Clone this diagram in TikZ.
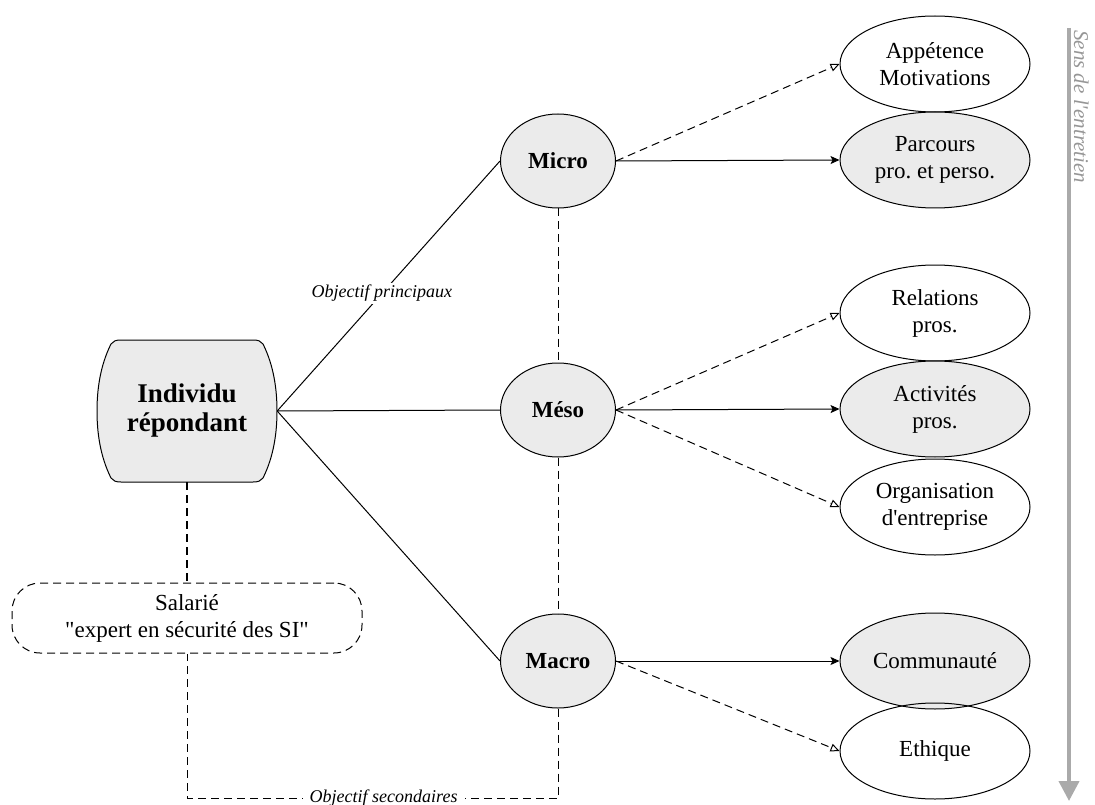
\documentclass[tikz,border=0pt]{standalone}
\usepackage{fontspec}
\setmainfont{Liberation Serif}[Ligatures=TeXOff]
\usetikzlibrary{arrows.meta,shapes.geometric}
\definecolor{nodefill}{RGB}{235,235,235}
\definecolor{flowgray}{RGB}{170,170,170}
\definecolor{flowtext}{RGB}{150,150,150}
\frenchspacing

\begin{document}
\begin{tikzpicture}[x=1pt,y=-1pt,
  level/.style={ellipse, draw, fill=nodefill, line width=1pt, minimum width=115pt,
    minimum height=94pt, inner sep=0pt, font=\fontsize{23}{27}\selectfont\bfseries},
  topic/.style={ellipse, draw, line width=1pt, minimum width=190pt, minimum height=96pt,
    inner sep=0pt, align=center, font=\fontsize{23}{27}\selectfont},
  topicfill/.style={topic, fill=nodefill},
  link/.style={line width=1pt},
  solidarrow/.style={link, -{Stealth[length=9pt,width=8pt,inset=2pt]}},
  dasharrow/.style={link, dash pattern=on 8pt off 5pt, -{Triangle[open,length=9pt,width=8pt]}},
  dashline/.style={link, dash pattern=on 8pt off 5pt},
  tag/.style={fill=white, font=\fontsize{18}{20}\selectfont\itshape, inner ysep=2pt, inner xsep=7pt}
]
\useasboundingbox (0,0) rectangle (1095,805);

% outline of the respondent block: flat top and bottom, bulging sides
\filldraw[fill=nodefill, line width=1pt]
  (121,340) -- (253,340) .. controls (258,340) and (261,341) .. (263,344)
  .. controls (274,366) and (277,390) .. (277,411)
  .. controls (277,432) and (274,456) .. (263,478)
  .. controls (261,481) and (258,482) .. (253,482) -- (121,482)
  .. controls (116,482) and (113,481) .. (111,478)
  .. controls (100,456) and (97,432) .. (97,411)
  .. controls (97,390) and (100,366) .. (111,344)
  .. controls (113,341) and (116,340) .. (121,340) -- cycle;
\node[minimum width=180pt, minimum height=142pt, inner sep=0pt, align=center,
  font=\fontsize{27}{29}\selectfont\bfseries] (ind) at (187,411) {Individu\\répondant};

% employee role
\node[draw, dash pattern=on 8pt off 5pt, line width=1pt, rounded corners=28pt,
  minimum width=350pt, minimum height=70pt, inner sep=0pt, align=center,
  font=\fontsize{23}{27}\selectfont] (sal) at (187,618) {Salarié\\"expert en sécurité des SI"};

% levels
\node[level] (micro) at (558,161) {Micro};
\node[level] (meso)  at (558,410) {Méso};
\node[level] (macro) at (558,661) {Macro};

% topics
\node[topic]     (appe) at (935,64)  {Appétence\\Motivations};
\node[topicfill] (parc) at (935,160) {Parcours\\pro. et perso.};
\node[topic]     (rela) at (935,313) {Relations\\pros.};
\node[topicfill] (acti) at (935,409) {Activités\\pros.};
\node[topic]     (orga) at (935,507) {Organisation\\d'entreprise};
\node[topicfill] (comm) at (935,661) {Communauté};
\node[topic]     (ethi) at (935,751) {Ethique};

% main links
\draw[link] (ind.east) -- node[tag, pos=0.47] {Objectif principaux} (micro.west);
\draw[link] (ind.east) -- (meso.west);
\draw[link] (ind.east) -- (macro.west);

% vertical chain between levels
\draw[dashline] (micro.south) -- (meso.north);
\draw[dashline] (meso.south) -- (macro.north);

% secondary objective loop
\coordinate (loopR) at (558,798);
\coordinate (loopL) at (187,798);
\draw[dashline] (macro.south) -- (loopR) -- node[tag, pos=0.47] {Objectif secondaires} (loopL) -- (sal.south);
\draw[line width=2pt, dash pattern=on 8pt off 5pt] (ind.south) -- (sal.north);

% level to topic links
\draw[dasharrow]  (micro.east) -- (appe.west);
\draw[solidarrow] (micro.east) -- (parc.west);
\draw[dasharrow]  (meso.east) -- (rela.west);
\draw[solidarrow] (meso.east) -- (acti.west);
\draw[dasharrow]  (meso.east) -- (orga.west);
\draw[solidarrow] (macro.east) -- (comm.west);
\draw[dasharrow]  (macro.east) -- (ethi.west);

% interview direction
\coordinate (flowtop) at (1069,28);
\coordinate (flowend) at (1069,801);
\draw[line width=4pt, flowgray, -{Triangle[length=20pt,width=20pt]}] (flowtop) -- (flowend);
\node[rotate=-90, anchor=base west, inner sep=0pt, text=flowtext,
  font=\fontsize{21}{23}\selectfont\itshape] (flowlabel) at (1074,30) {Sens de l'entretien};
\end{tikzpicture}
\end{document}
